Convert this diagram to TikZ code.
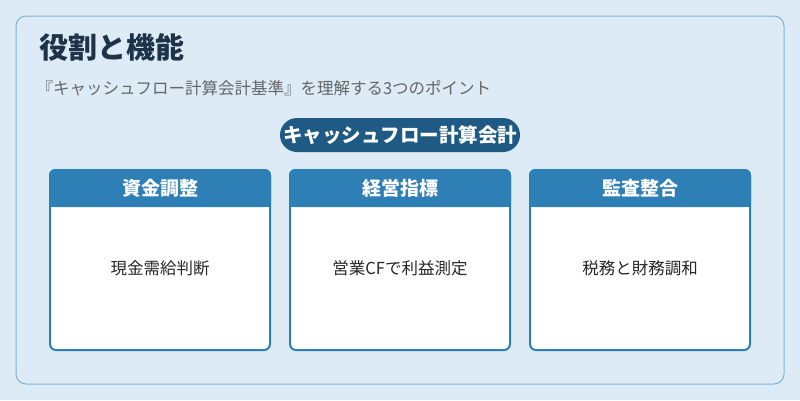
\documentclass[tikz,border=0pt]{standalone}
\usepackage{fontspec}
\setmainfont{Noto Sans CJK JP}
\begin{document}
\begin{tikzpicture}[x=1pt,y=-1pt,
  card/.style={draw=hd,line width=2pt,fill=white,rounded corners=6pt},
  hdr/.style={text=white,font=\bfseries\fontsize{19}{22}\selectfont},
  body/.style={text=black!85,font=\fontsize{16.5}{20}\selectfont}]
\definecolor{bg}{HTML}{DCEBF6}
\definecolor{hd}{HTML}{2E7FB5}
\definecolor{pill}{HTML}{1F5A85}
\definecolor{ttl}{HTML}{1E3348}
\fill[bg] (0,0) rectangle (800,400);
\useasboundingbox (0,0) rectangle (800,400);
\draw[draw=hd!60,line width=1pt,rounded corners=10pt] (16,16) rectangle (784,384);
\node[anchor=west,text=ttl,font=\bfseries\fontsize{29}{34}\selectfont] (title) at (36,47) {役割と機能};
\node[anchor=west,text=black!60,font=\fontsize{16.5}{20}\selectfont] (sub) at (33,88) {『キャッシュフロー計算会計基準』を理解する3つのポイント};
\node[fill=pill,rounded corners=17pt,minimum width=240pt,minimum height=34pt,inner xsep=2pt,text=white,font=\bfseries\fontsize{19.5}{22}\selectfont] (pill) at (400,135) {キャッシュフロー計算会計};
\foreach \x/\h/\b/\n in {50/資金調整/現金需給判断/a,290/経営指標/営業CFで利益測定/b,530/監査整合/税務と財務調和/c}{
  \draw[card] (\x,170) rectangle ++(220,180);
  \fill[hd,rounded corners=6pt] (\x-1,169) rectangle ++(222,38);
  \fill[hd] (\x-1,195) rectangle ++(222,12);
  \node[hdr] (h\n) at (\x+110,188) {\h};
  \node[body] (b\n) at (\x+110,268) {\b};
}
\end{tikzpicture}
\end{document}
